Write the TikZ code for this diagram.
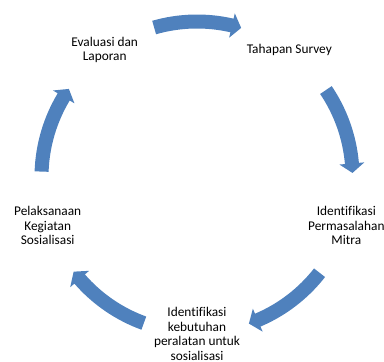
\documentclass[tikz,border=0pt]{standalone}
\usepackage{fontspec}
\setmainfont[Ligatures=NoCommon]{Carlito}
\usetikzlibrary{calc}
\definecolor{siklus}{RGB}{79,129,189}

\begin{document}
\begin{tikzpicture}[x=0.75pt,y=0.75pt]
\tikzstyle{tahap} = [align=center,inner sep=0pt,font=\fontsize{10}{10.9}\selectfont]
\tikzstyle{panah} = [fill=siklus,draw=none]
\useasboundingbox (0,0) rectangle (384,361);
\coordinate (C) at (197,184);
\node[tahap] (survey) at ($(C)+(54:157)$) {Tahapan Survey};
\node[tahap] (mitra) at ($(C)+(-18:157)$) {Identifikasi\\Permasalahan\\Mitra};
\node[tahap] (alat) at ($(C)+(-90:157)$) {Identifikasi\\kebutuhan\\peralatan untuk\\sosialisasi};
\node[tahap] (pelaksanaan) at ($(C)+(198:157)$) {Pelaksanaan\\Kegiatan\\Sosialisasi};
\node[tahap] (evaluasi) at ($(C)+(126:157)$) {Evaluasi dan\\Laporan};
% block arrows of the cycle, clockwise
\foreach \a in {90,18,-54,-126,-198} {
  \fill[panah] ($(C)+(\a+16:162.5)$) arc[start angle=\a+16, end angle=\a-13, radius=162.5]
    -- ($(C)+(\a-13:168)$) -- ($(C)+(\a-16.5:155.5)$) -- ($(C)+(\a-13:143)$)
    -- ($(C)+(\a-13:148.5)$) arc[start angle=\a-13, end angle=\a+16, radius=148.5] -- cycle;
}
\end{tikzpicture}
\end{document}
